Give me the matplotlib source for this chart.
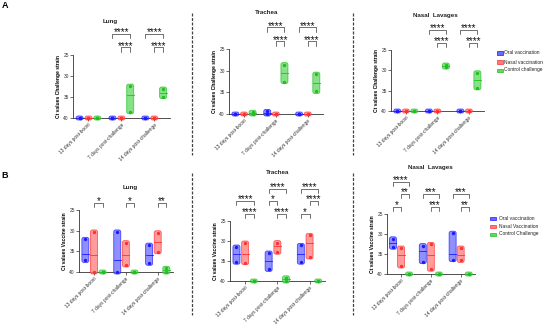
import matplotlib.pyplot as plt
from matplotlib.patches import FancyBboxPatch, Rectangle
from matplotlib.lines import Line2D

plt.rcParams['font.family'] = ['Liberation Sans', 'DejaVu Sans']

W, H = 550, 327

days = ['13 days post-boost', '7 days post-challenge', '14 days post-challenge']
legend_a = ['Oral vaccination', 'Nasal vaccination', 'Control challenge']
legend_b = ['Oral vaccination', 'Nasal Vaccination', 'Control Challenge']

# floating bars (min / max / mean Ct), rows: oral, nasal, control; cols: days
# A - challenge strain
lung_a_min = [[40, 40, 40], [40, 40, 40], [40, 32.4, 33.1]]
lung_a_max = [[40, 40, 40], [40, 40, 40], [40, 38.5, 34.9]]
lung_a_mean = [[40, 40, 40], [40, 40, 40], [40, 34.5, 34.0]]

trachea_a_min = [[40, 39.4, 40], [40, 40, 40], [39.6, 28.6, 30.8]]
trachea_a_max = [[40, 40, 40], [40, 40, 40], [40, 32.5, 34.8]]
trachea_a_mean = [[40, 39.7, 40], [40, 40, 40], [39.8, 30.5, 32.8]]

nasal_a_min = [[40, 40, 40], [40, 40, 40], [40, 28.7, 30.6]]
nasal_a_max = [[40, 40, 40], [40, 40, 40], [40, 29.2, 34.3]]
nasal_a_mean = [[40, 40, 40], [40, 40, 40], [40, 28.9, 32.4]]

# B - vaccine strain
lung_b_min = [[32.1, 30.3, 33.5], [30.3, 32.9, 30.5], [40, 40, 39.1]]
lung_b_max = [[37.2, 40, 37.9], [40, 38.3, 35.1], [40, 40, 40]]
lung_b_mean = [[35.6, 37.2, 36.0], [35.9, 35.9, 32.7], [40, 40, 39.6]]

trachea_b_min = [[31.5, 33.0, 31.1], [30.5, 30.4, 28.6], [40, 39.2, 40]]
trachea_b_max = [[35.3, 37.1, 35.3], [35.4, 32.8, 34.0], [40, 40, 40]]
trachea_b_mean = [[33.2, 35.0, 33.2], [33.2, 31.3, 30.6], [40, 39.6, 40]]

nasal_b_min = [[31.2, 32.9, 29.8], [33.5, 32.6, 33.5], [40, 40, 40]]
nasal_b_max = [[33.3, 36.9, 36.4], [38.0, 38.8, 36.6], [40, 40, 40]]
nasal_b_mean = [[32.3, 34.3, 35.0], [35.2, 35.2, 35.3], [40, 40, 40]]

# significance: (day, series from, series to, row, stars)
sig_a = [(1, 0, 2, 1, '****'), (1, 1, 2, 0, '****'),
         (2, 0, 2, 1, '****'), (2, 1, 2, 0, '****')]
sig_lung_b = [(0, 1, 2, 0, '*'), (1, 1, 2, 0, '*'), (2, 1, 2, 0, '**')]
sig_trachea_b = [(0, 0, 2, 1, '****'), (0, 1, 2, 0, '****'),
                 (1, 0, 2, 2, '****'), (1, 0, 1, 1, '*'), (1, 1, 2, 0, '****'),
                 (2, 0, 2, 2, '****'), (2, 1, 2, 1, '****'), (2, 0, 1, 0, '*')]
sig_nasal_b = [(0, 0, 2, 2, '****'), (0, 1, 2, 1, '**'), (0, 0, 1, 0, '*'),
               (1, 0, 2, 1, '***'), (1, 1, 2, 0, '***'),
               (2, 0, 2, 1, '***'), (2, 1, 2, 0, '**')]

edge_colors = ['#1a1aff', '#ff3030', '#1fbf1f']
face_colors = ['#6a6aff', '#ff7a7a', '#5fd85f']
offsets = [-0.27, 0.0, 0.27]
rows = [23.2, 20.0, 16.9]

fig = plt.figure(figsize=(W / 100, H / 100), dpi=100)


def px_axes(l, t, r, b):
    return fig.add_axes([l / W, 1 - b / H, (r - l) / W, (b - t) / H])


def draw_panel(ax, cmin, cmax, cmean, ylabel, sig):
    ax.set_xlim(-0.47, 2.48)
    ax.set_ylim(40, 25)
    bb = ax.get_position()
    wpx, hpx = bb.width * W, bb.height * H
    xpp = 2.95 / wpx
    ypp = 15 / hpx
    asp = ypp / xpp
    pad = 2.0 * xpp
    hw = 1.5 * xpp
    for s in range(3):
        for g in range(3):
            x = g + offsets[s]
            lo, hi, m = cmin[s][g], cmax[s][g], cmean[s][g]
            box = FancyBboxPatch((x - hw, lo), 2 * hw, hi - lo,
                                 boxstyle=f"round,pad={pad},rounding_size={pad}",
                                 mutation_aspect=asp, facecolor=face_colors[s],
                                 edgecolor=edge_colors[s], lw=0.6, alpha=0.75,
                                 clip_on=False, zorder=3)
            ax.add_patch(box)
            ax.plot([x - hw - pad, x + hw + pad], [m, m], color=edge_colors[s],
                    lw=0.6, clip_on=False, zorder=4)
            ax.plot([x, x], [lo, hi], 'o', ms=1.4, color=edge_colors[s],
                    clip_on=False, zorder=4)
    for g, s1, s2, r, txt in sig:
        x1, x2 = g + offsets[s1], g + offsets[s2]
        y = rows[r]
        ax.plot([x1, x1, x2, x2], [y + 1.0, y, y, y + 1.0], color='#222222',
                lw=0.45, clip_on=False)
        ax.text((x1 + x2) / 2, y + 0.35, txt, ha='center', va='baseline',
                fontsize=7, color='#111111', clip_on=False)
    for side in ['top', 'right']:
        ax.spines[side].set_visible(False)
    for side in ['left', 'bottom']:
        ax.spines[side].set_linewidth(0.6)
        ax.spines[side].set_color('#333333')
    ax.set_yticks([25, 30, 35, 40])
    ax.set_xticks([0, 1, 2])
    ax.set_xticklabels(days, rotation=45, ha='right', rotation_mode='anchor')
    ax.tick_params(axis='both', labelsize=3.5, length=2, width=0.5,
                   pad=1, colors='#333333')
    ax.set_ylabel(ylabel, fontsize=3.6, fontweight='bold')
    ax.yaxis.set_label_coords(-12 / wpx, 0.5)


panels = [
    ((73, 55, 170, 118), lung_a_min, lung_a_max, lung_a_mean, 'Ct values Challenge strain', sig_a),
    ((229, 49, 323, 114), trachea_a_min, trachea_a_max, trachea_a_mean, 'Ct values Challenge strain', sig_a),
    ((391, 50, 484, 111), nasal_a_min, nasal_a_max, nasal_a_mean, 'Ct values Challenge strain', sig_a),
    ((79, 210, 173, 272), lung_b_min, lung_b_max, lung_b_mean, 'Ct values Vaccine strain', sig_lung_b),
    ((230, 221, 325, 281), trachea_b_min, trachea_b_max, trachea_b_mean, 'Ct values Vaccine strain', sig_trachea_b),
    ((387, 214, 475, 274), nasal_b_min, nasal_b_max, nasal_b_mean, 'Ct values Vaccine strain', sig_nasal_b),
]
for box, cmin, cmax, cmean, ylab, sig in panels:
    ax = px_axes(*box)
    draw_panel(ax, cmin, cmax, cmean, ylab, sig)

titles = [('Lung', 110, 21), ('Trachea', 267, 13), ('Nasal  Lavages', 435, 15),
          ('Lung', 130, 187), ('Trachea', 278, 172), ('Nasal  Lavages', 430, 167)]
for t, x, y in titles:
    fig.text(x / W, 1 - y / H, t, ha='center', va='center', fontsize=4.5,
             fontweight='bold', color='#222222')

fig.text(5 / W, 1 - 6 / H, 'A', ha='center', va='center', fontsize=6.5,
         fontweight='bold')
fig.text(5 / W, 1 - 175 / H, 'B', ha='center', va='center', fontsize=6.5,
         fontweight='bold')

# dashed separators
for x in [192, 353]:
    for y0, y1 in [(13, 155), (173, 315)]:
        fig.add_artist(Line2D([x / W, x / W], [1 - y0 / H, 1 - y1 / H],
                              transform=fig.transFigure, ls=(0, (2.4, 1.2)),
                              color='#444444', lw=0.9))

# legends
for labels, px, tx, ys in [(legend_a, 497, 504, [53, 62, 70]),
                           (legend_b, 490, 499, [218, 226, 234])]:
    for s, (lab, y) in enumerate(zip(labels, ys)):
        fig.add_artist(Rectangle(((px) / W, 1 - (y + 1.5) / H), 6 / W, 3 / H,
                                 transform=fig.transFigure,
                                 facecolor=face_colors[s], edgecolor=edge_colors[s],
                                 lw=0.5))
        fig.text(tx / W, 1 - y / H, lab, ha='left', va='center', fontsize=3.5,
                 color='#222222')

fig.savefig('out.png', dpi=100)
